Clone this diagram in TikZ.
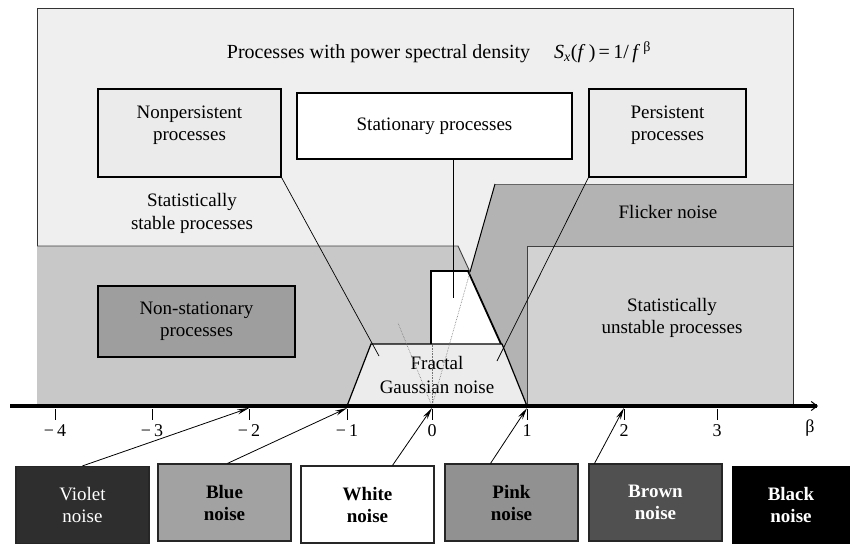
\documentclass[tikz,border=0pt]{standalone}
\usepackage{fontspec}
\setmainfont{Liberation Serif}
\newfontfamily\plainserif{Liberation Serif}
\usetikzlibrary{arrows.meta}

\definecolor{outerfill}{HTML}{EFEFEF}
\definecolor{procfill}{HTML}{EBEBEB}
\definecolor{leftgray}{HTML}{C8C8C8}
\definecolor{flickergray}{HTML}{B3B3B3}
\definecolor{rightgray}{HTML}{D2D2D2}
\definecolor{nonstatfill}{HTML}{9E9E9E}
\definecolor{fractfill}{HTML}{ECECEC}
\definecolor{violetfill}{HTML}{2E2E2E}
\definecolor{bluefill}{HTML}{A2A2A2}
\definecolor{pinkfill}{HTML}{919191}
\definecolor{brownfill}{HTML}{505050}

\begin{document}
\begin{tikzpicture}[x=1pt, y=-1pt,
    font=\fontsize{19}{22}\selectfont,
    procbox/.style={draw, line width=1.3pt, fill=#1, align=center, inner sep=0pt},
    procbox/.default=procfill,
    noisebox/.style={draw=black!85, line width=1.2pt, fill=#1, minimum width=133pt,
      minimum height=77pt, align=center, font=\plainserif\fontsize{19}{22}\selectfont},
    region/.style={line width=0.9pt, draw=black!75},
    pointer/.style={line width=0.7pt},
    fan/.style={densely dotted, black!55, line width=0.6pt},
    feed/.style={-{Stealth[length=12pt,width=5pt]}, line width=0.8pt}]
  \fill[white] (0,0) rectangle (850,544);
  \useasboundingbox (0,0) rectangle (850,544);

  % Outer frame
  \filldraw[fill=outerfill, draw=black!80, line width=1pt] (37,406) -- (37,8) -- (793,8) -- (793,406);
  \node[font=\fontsize{20}{24}\selectfont] (title) at (439,52) {Processes with power spectral density\hspace{1.2em}%
    \textit{S}\textsubscript{\textit{x}}(\textit{f}\,)\,=\,1/\,\textit{f}\,\textsuperscript{β}};

  % Regions
  \fill[leftgray] (37,246) -- (458,246) -- (470,272) -- (527,406) -- (37,406) -- cycle;
  \draw[region] (37,246) -- (458,246) -- (470,272);
  \fill[flickergray] (495,184) -- (793,184) -- (793,246) -- (527,246) -- (527,406) -- (470,272) -- cycle;
  \draw[black!60, line width=0.6pt] (495,184) -- (793,184);
  \draw[line width=1pt] (495,184) -- (470,272);
  \filldraw[fill=rightgray, region] (527,406) -- (527,246) -- (793,246) -- (793,406);
  \draw[black!80, line width=1pt] (793,8) -- (793,406);

  % Stationary part and fractal noise
  \filldraw[fill=white, line width=1.8pt] (431,344) -- (431,271) -- (468,271) -- (501,344);
  \filldraw[fill=fractfill, line width=1.2pt] (347,406) -- (371,344) -- (502,344) -- (527,406) -- cycle;
  \node[align=center, font=\fontsize{19}{24}\selectfont] (fgn) at (437,375) {Fractal\\Gaussian noise};

  % Region labels
  \node[align=center, font=\fontsize{19}{23}\selectfont] (stable) at (192,213) {Statistically\\stable processes};
  \node (flicker) at (668,212) {Flicker noise};
  \node[align=center] (unstable) at (672,318) {Statistically\\unstable processes};
  \node[procbox=nonstatfill, minimum width=197pt, minimum height=71pt] (nonstat) at (196.5,321.5)
    {Non-stationary\\processes};

  % Process boxes
  \node[procbox, minimum width=183pt, minimum height=88pt,
    label={[align=center, yshift=8pt]center:Nonpersistent\\processes}] (nonpers) at (189.5,133) {};
  \node[procbox=white, minimum width=275pt, minimum height=66pt] (stat) at (434.5,126)
    {Stationary processes};
  \node[procbox, minimum width=157pt, minimum height=88pt,
    label={[align=center, yshift=8pt]center:Persistent\\processes}] (pers) at (667.5,133) {};

  \coordinate (np) at (379,356);
  \coordinate (sp) at (453,298);
  \coordinate (pp) at (497,361);
  \draw[pointer] (nonpers.south east) -- (np);
  \draw[pointer] (stat.south -| sp) -- (sp);
  \draw[pointer] (pers.south west) -- (pp);

  % Dotted fan from beta = 0
  \coordinate (o) at (432,406);
  \coordinate (fa) at (398,323);
  \coordinate (fb) at (432,344);
  \coordinate (fc) at (470,272);
  \draw[fan] (o) -- (fa);
  \draw[fan] (o) -- (fb);
  \draw[fan] (o) -- (fc);

  % Beta axis
  \coordinate (ax0) at (10,406);
  \coordinate (ax1) at (818,406);
  \draw[line width=3.5pt, -{Straight Barb[length=6pt,width=9pt,line width=1pt]}] (ax0) -- (ax1);
  \foreach \x/\n/\lab in {55/m4/{−\,4}, 152/m3/{−\,3}, 249/m2/{−\,2}, 347/m1/{−\,1},
                          432/0/0, 527/1/1, 624/2/2, 717/3/3} {
    \coordinate (t\n) at (\x,408);
    \draw[line width=0.6pt] (\x,409) -- (\x,420);
    \node[font=\plainserif\fontsize{18}{20}\selectfont] (l\n) at (\x,431) {\lab};
  }
  \node[font=\plainserif\fontsize{18}{20}\selectfont] (beta) at (810,428) {β};

  % Noise colours
  \node[noisebox=violetfill, text=white] (violet) at (82.5,505) {Violet\\noise};
  \node[noisebox=bluefill, font=\plainserif\bfseries\fontsize{19}{22}\selectfont] (blue) at (224.5,502.5) {Blue\\noise};
  \node[noisebox=white, font=\plainserif\bfseries\fontsize{19}{22}\selectfont] (white) at (367.5,504.5) {White\\noise};
  \node[noisebox=pinkfill, font=\plainserif\bfseries\fontsize{19}{22}\selectfont] (pink) at (511.5,502.5) {Pink\\noise};
  \node[noisebox=brownfill, text=white, font=\plainserif\bfseries\fontsize{19}{22}\selectfont] (brown) at (655.5,502.5) {Brown\\noise};
  \node[noisebox=black, draw=none, text=white, minimum width=118pt, minimum height=78pt,
    font=\plainserif\bfseries\fontsize{19}{22}\selectfont] (black) at (791,505) {Black\\noise};

  \draw[feed] (violet.north) -- (tm2);
  \draw[feed] ([xshift=3pt]blue.north) -- (tm1);
  \draw[feed] ([xshift=25pt]white.north) -- (t0);
  \draw[feed] ([xshift=-21pt]pink.north) -- (t1);
  \draw[feed] ([xshift=-61pt]brown.north) -- (t2);
\end{tikzpicture}
\end{document}
